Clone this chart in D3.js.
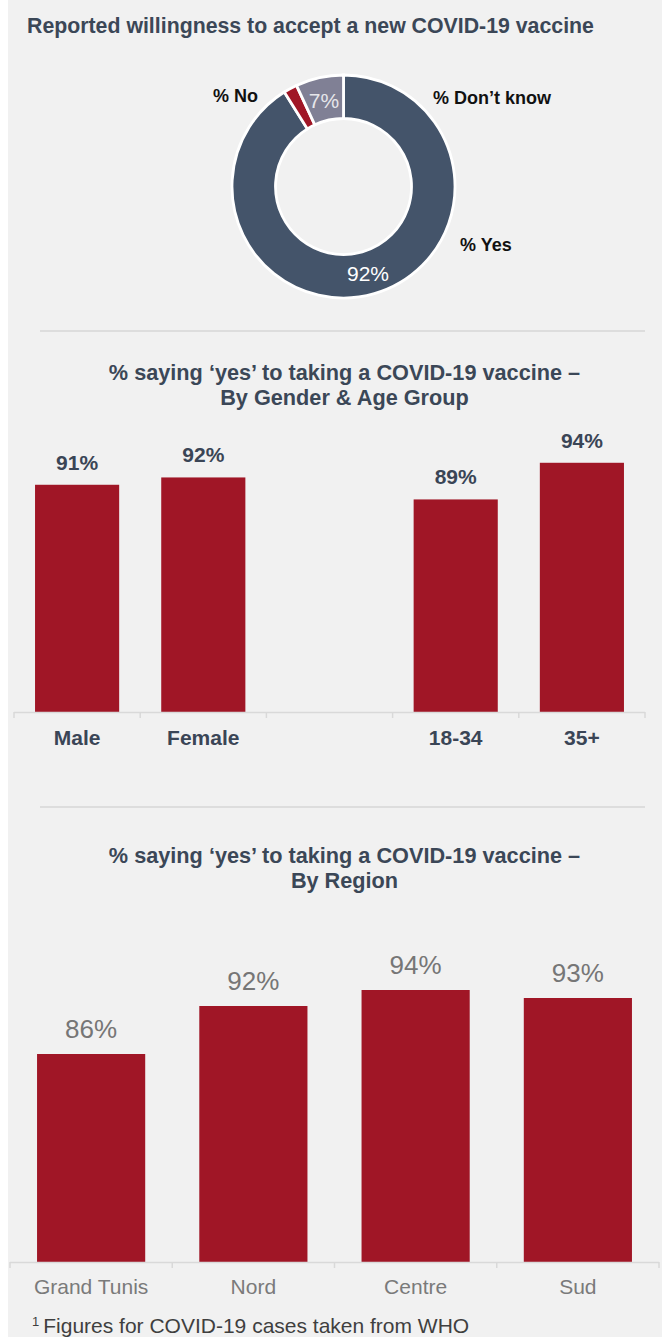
<!DOCTYPE html>
<html>
<head>
<meta charset="utf-8">
<script src="https://cdn.jsdelivr.net/npm/d3@7"></script>
<style>
  html, body { margin: 0; padding: 0; background: #ffffff; }
  svg text { font-family: "Liberation Sans", Arial, sans-serif; }
</style>
</head>
<body>
<svg id="chart" width="662" height="1337"></svg>
<script>
// ---- data ----
const donutLabels = ["% Yes", "% No", "% Don\u2019t know"];
const donutValues = [92, 2, 7];
const donutShown = ["92%", "", "7%"];

const genderAgeCats = ["Male", "Female", "", "18-34", "35+"];
const genderAgeValues = [91, 92, null, 89, 94];

const regionCats = ["Grand Tunis", "Nord", "Centre", "Sud"];
const regionValues = [86, 92, 94, 93];

const titleMain = "Reported willingness to accept a new COVID-19 vaccine";
const titleGender = ["% saying \u2018yes\u2019 to taking a COVID-19 vaccine \u2013", "By Gender & Age Group"];
const titleRegion = ["% saying \u2018yes\u2019 to taking a COVID-19 vaccine \u2013", "By Region"];
const footnote = "Figures for COVID-19 cases taken from WHO";

// ---- drawing ----
const svg = d3.select("#chart");
const W = 662, H = 1337;
svg.append("rect").attr("x", 8).attr("y", 0).attr("width", W - 8).attr("height", H).attr("fill", "#f1f1f1");

const titleColor = "#3b4757";
const barColor = "#a01626";

svg.append("text").attr("x", 27).attr("y", 33)
  .attr("font-size", 21.3).attr("font-weight", "bold").attr("fill", titleColor)
  .text(titleMain);

// donut
const cx = 343.5, cy = 186.5;
const pie = d3.pie().sort(null).value(d => d);
const arc = d3.arc().innerRadius(68).outerRadius(111.5);
const donutColors = ["#44546a", "#a01626", "#808095"];
const arcs = pie(donutValues);
const g = svg.append("g").attr("transform", `translate(${cx},${cy})`);
g.selectAll("path").data(arcs).join("path")
  .attr("d", arc).attr("fill", (d, i) => donutColors[i])
  .attr("stroke", "#ffffff").attr("stroke-width", 2.8).attr("stroke-linejoin", "miter");

// slice value labels
const valPos = [[368 - cx, 281 - cy], null, [324 - cx, 108 - cy]];
const shownArcs = arcs.filter(d => donutShown[d.index] !== "");
g.selectAll("text.val").data(shownArcs).join("text").attr("class", "val")
  .attr("x", d => valPos[d.index][0]).attr("y", d => valPos[d.index][1])
  .attr("text-anchor", "middle").attr("font-size", 21)
  .attr("fill", d => d.index === 0 ? "#ffffff" : "#e6e6ea")
  .text(d => donutShown[d.index]);

// category labels around donut
const labelPos = [[460, 251, "start"], [213, 102, "start"], [433, 104, "start"]];
donutLabels.forEach((t, i) => {
  svg.append("text").attr("x", labelPos[i][0]).attr("y", labelPos[i][1])
    .attr("text-anchor", labelPos[i][2])
    .attr("font-size", 18).attr("font-weight", "bold").attr("fill", "#111111")
    .text(t);
});

// dividers
[331, 807].forEach(y => {
  svg.append("line").attr("x1", 40).attr("x2", 645).attr("y1", y).attr("y2", y)
    .attr("stroke", "#d6d6d6").attr("stroke-width", 1.5);
});

function sectionTitle(lines, y0) {
  lines.forEach((t, i) => {
    svg.append("text").attr("x", 344.5).attr("y", y0 + i * 25)
      .attr("text-anchor", "middle").attr("font-size", 21.7).attr("font-weight", "bold")
      .attr("fill", titleColor).text(t);
  });
}
sectionTitle(titleGender, 380);
sectionTitle(titleRegion, 863);

function barChart(cats, vals, opts) {
  const x = d3.scaleBand().domain(cats.map((c, i) => i)).range([opts.x0, opts.x1])
    .paddingInner(1 / 3).paddingOuter(1 / 6);
  const y = d3.scaleLinear().domain([60, 100]).range([opts.base, opts.base - 40 * opts.k]);
  const step = x.step();
  const gb = svg.append("g");
  const data = cats.map((c, i) => ({ c, v: vals[i], i })).filter(d => d.v != null);
  gb.selectAll("rect").data(data).join("rect")
    .attr("x", d => x(d.i)).attr("width", x.bandwidth())
    .attr("y", d => y(d.v)).attr("height", d => opts.base - y(d.v))
    .attr("fill", barColor);
  gb.selectAll("text.v").data(data).join("text").attr("class", "v")
    .attr("x", d => x(d.i) + x.bandwidth() / 2).attr("y", d => y(d.v) - opts.gap)
    .attr("text-anchor", "middle").attr("font-size", opts.valSize)
    .attr("font-weight", opts.bold ? "bold" : "normal").attr("fill", opts.valColor)
    .text(d => d.v + "%");
  // axis
  gb.append("line").attr("x1", opts.x0).attr("x2", opts.x1)
    .attr("y1", opts.base + 0.5).attr("y2", opts.base + 0.5)
    .attr("stroke", "#d9d9d9").attr("stroke-width", 1.5);
  d3.range(cats.length + 1).forEach(j => {
    const xx = opts.x0 + j * step;
    gb.append("line").attr("x1", xx).attr("x2", xx)
      .attr("y1", opts.base).attr("y2", opts.base + 6)
      .attr("stroke", "#d9d9d9").attr("stroke-width", 1.5);
  });
  gb.selectAll("text.c").data(cats.map((c, i) => ({ c, i }))).join("text").attr("class", "c")
    .attr("x", d => x(d.i) + x.bandwidth() / 2).attr("y", opts.catY)
    .attr("text-anchor", "middle").attr("font-size", 21)
    .attr("font-weight", opts.bold ? "bold" : "normal").attr("fill", opts.catColor)
    .text(d => d.c);
}

barChart(genderAgeCats, genderAgeValues, {
  x0: 14, x1: 645, base: 712, k: 7.33, gap: 15, valSize: 21, bold: true,
  valColor: "#3a4556", catColor: "#3a4556", catY: 745
});
barChart(regionCats, regionValues, {
  x0: 10, x1: 659, base: 1262, k: 8, gap: 16, valSize: 26, bold: false,
  valColor: "#767676", catColor: "#7a7a7a", catY: 1294
});

// footnote
const fn = svg.append("text").attr("x", 32).attr("y", 1333).attr("font-size", 21).attr("fill", "#3f3f3f");
fn.append("tspan").attr("font-size", 13).attr("dy", -7).text("1");
fn.append("tspan").attr("dy", 7).attr("dx", 4).text(footnote);
</script>
</body>
</html>
